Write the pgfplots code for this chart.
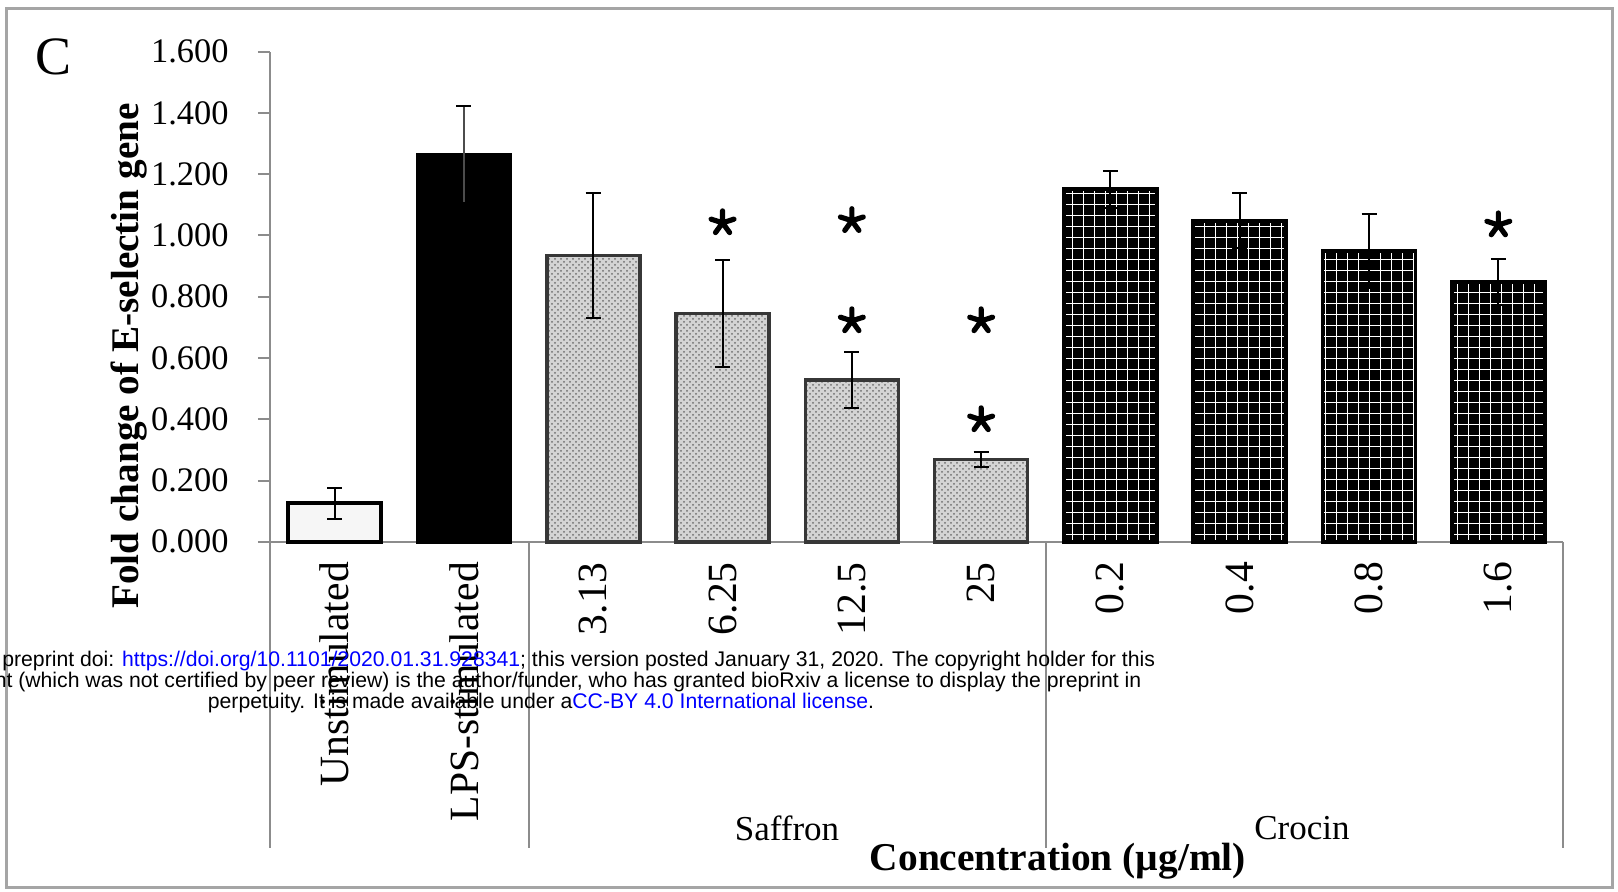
\documentclass[border=0pt]{standalone}
\usepackage{fontspec}
\setmainfont{Liberation Serif}
\newfontfamily\arialfont{Liberation Sans}
\usepackage{pgfplots}
\pgfplotsset{compat=1.18}
\usetikzlibrary{patterns}
\definecolor{axgray}{RGB}{140,140,140}
\definecolor{framegray}{RGB}{165,165,165}
\definecolor{saffill}{RGB}{212,212,212}
\definecolor{safdot}{RGB}{110,110,110}
\definecolor{safedge}{RGB}{55,55,55}
\definecolor{linkblue}{RGB}{0,0,255}
\pgfdeclarepatternformonly{biggrid}{\pgfqpoint{-0.5pt}{-0.5pt}}{\pgfqpoint{6pt}{6pt}}{\pgfqpoint{5.5pt}{5.5pt}}{%
  \pgfsetlinewidth{0.8pt}%
  \pgfpathmoveto{\pgfqpoint{-0.5pt}{2.75pt}}\pgfpathlineto{\pgfqpoint{6pt}{2.75pt}}%
  \pgfpathmoveto{\pgfqpoint{2.75pt}{-0.5pt}}\pgfpathlineto{\pgfqpoint{2.75pt}{6pt}}%
  \pgfusepath{stroke}}
\pgfplotsset{
  errstyle/.style={
    error bars/y dir=both, error bars/y explicit,
    error bars/error bar style={black, line width=1pt},
    error bars/error mark options={black, line width=1pt, mark size=3.75pt, rotate=90},
  },
}
\begin{document}
\begin{tikzpicture}[x=1pt,y=1pt]
\begin{axis}[
  scale only axis, width=646.5pt, height=245.1pt,
  xmin=-0.5, xmax=9.5, ymin=0, ymax=1.6,
  clip=false,
  axis lines*=left,
  axis line style={axgray, line width=1pt},
  ytick={0,0.2,0.4,0.6,0.8,1.0,1.2,1.4,1.6},
  /pgf/number format/assume math mode=true,
  yticklabel style={font=\fontsize{17.2}{20}\selectfont, inner sep=0pt,
    /pgf/number format/fixed, /pgf/number format/fixed zerofill, /pgf/number format/precision=3},
  yticklabel shift=14.5pt,
  tick align=outside,
  major tick length=6pt,
  y tick style={axgray, line width=1pt},
  x tick style={draw=none},
  xtick={0,1,2,3,4,5,6,7,8,9},
  xticklabels={Unstimulated, LPS-stimulated, 3.13, 6.25, 12.5, 25, 0.2, 0.4, 0.8, 1.6},
  xticklabel style={rotate=90, anchor=east, inner sep=0pt, font=\fontsize{20.8}{23}\selectfont},
  xticklabel shift=4pt,
  ylabel={Fold change of E-selectin gene},
  ylabel style={at={(axis description cs:-0.109,0.379)}, anchor=center, font=\bfseries\fontsize{19.6}{22}\selectfont},
]
% Unstimulated
\addplot[ybar, bar shift=0pt, bar width=46.5pt, fill=gray!7, draw=black, line width=1.8pt, errstyle]
  coordinates {(0,0.126) +- (0,0.050)};
% LPS-stimulated
\addplot[ybar, bar shift=0pt, bar width=46.5pt, fill=black, draw=black, line width=1.8pt, errstyle,
  error bars/error bar style={black!70, line width=1pt}]
  coordinates {(1,1.264) +- (0,0.157)};
% Saffron
\addplot[ybar, bar shift=0pt, bar width=46.5pt, fill=saffill, draw=safedge, line width=1.8pt,
  postaction={pattern=crosshatch dots, pattern color=safdot}, errstyle]
  coordinates {(2,0.934) +- (0,0.205) (3,0.745) +- (0,0.175) (4,0.528) +- (0,0.090) (5,0.268) +- (0,0.025)};
% Crocin
\addplot[ybar, bar shift=0pt, bar width=46.5pt, fill=black, draw=black, line width=1.8pt,
  postaction={pattern=biggrid, pattern color=white}, errstyle]
  coordinates {(6,1.151) +- (0,0.060) (7,1.048) +- (0,0.090) (8,0.950) +- (0,0.120) (9,0.847) +- (0,0.075)};
% significance asterisks
\addplot[only marks, mark=star, mark size=6pt, mark options={black, line width=2.6pt, line cap=round}]
  coordinates {(3,1.041) (4,1.048) (4,0.721) (5,0.721) (5,0.398) (9,1.034)};
% group separators
\draw[axgray, line width=1pt] (axis cs:-0.5,0) -- ++(0pt,-153pt);
\draw[axgray, line width=1pt] (axis cs:1.5,0) -- ++(0pt,-153pt);
\draw[axgray, line width=1pt] (axis cs:5.5,0) -- ++(0pt,-153pt);
\draw[axgray, line width=1pt] (axis cs:9.5,0) -- ++(0pt,-153pt);
\coordinate (SW) at (rel axis cs:0,0);
\end{axis}
\begin{scope}[shift={(SW)}]
\begin{scope}[shift={(-135,-175.1)}]
\path (0,0) rectangle (809,446);
\draw[framegray, line width=1.5pt] (3.5,2) rectangle (806,441.5);
\node[font=\fontsize{27}{30}\selectfont, anchor=center] at (27,417.5) {C};
\node[font=\fontsize{17.5}{20}\selectfont] at (393.5,32) {Saffron};
\node[font=\fontsize{17.5}{20}\selectfont] at (651,32) {Crocin};
\node[font=\bfseries\fontsize{19.7}{22}\selectfont] at (529,15.2) {Concentration (µg/ml)};
\node[overlay, font=\arialfont\fontsize{10.6}{10.3}\selectfont, align=center] at (270.5,105)
  {bioRxiv preprint doi: \textcolor{linkblue}{https://doi.org/10.1101/2020.01.31.928341}; this version posted January 31, 2020. The copyright holder for this\\
   preprint (which was not certified by peer review) is the author/funder, who has granted bioRxiv a license to display the preprint in\\
   perpetuity. It is made available under a\textcolor{linkblue}{CC-BY 4.0 International license}.};
\end{scope}
\end{scope}
\end{tikzpicture}
\end{document}
